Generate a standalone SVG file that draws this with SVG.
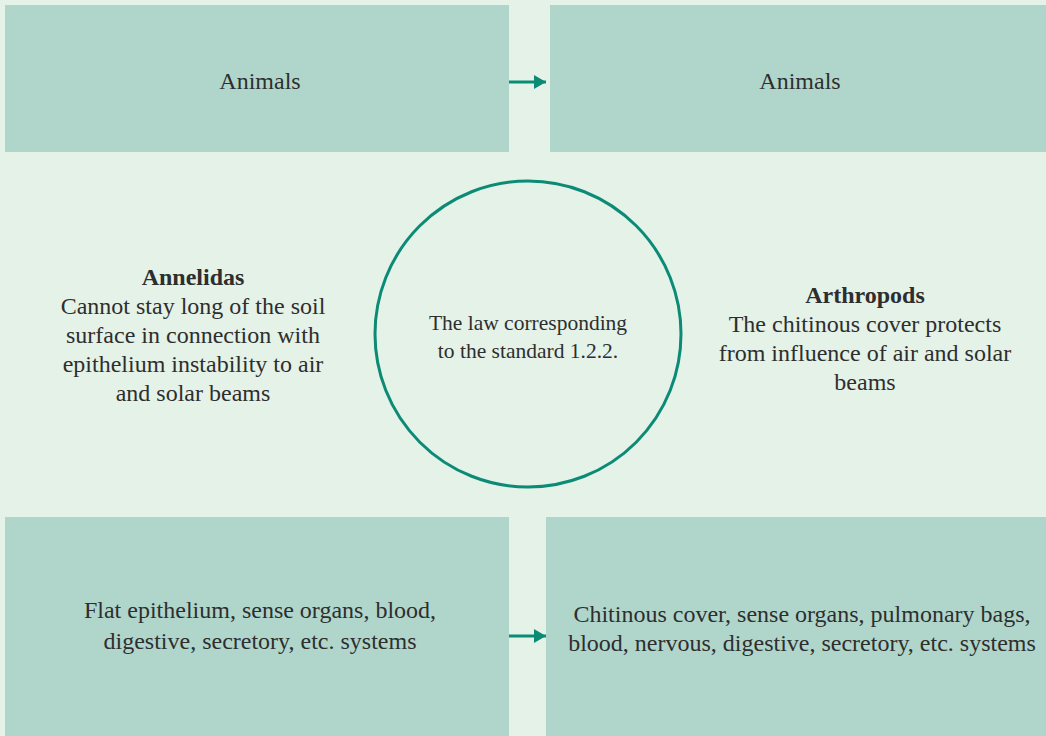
<svg xmlns="http://www.w3.org/2000/svg" width="1046" height="736" viewBox="0 0 1046 736">
<defs>
<style>
.box{fill:#b0d6cc}
text{font-family:"Liberation Serif","DejaVu Serif",serif;fill:#2e2e2e;text-anchor:middle}
.t{font-size:24px}
.s{font-size:21.5px}
.b{font-weight:bold}
.con{stroke:#0b8b76;stroke-width:3;fill:none}
</style>
<marker id="ah" viewBox="0 0 12 14" refX="12" refY="7" markerWidth="12" markerHeight="14" markerUnits="userSpaceOnUse" orient="auto">
<path d="M0,0 L12,7 L0,14 Z" fill="#0b8b76"/>
</marker>
</defs>
<rect width="1046" height="736" fill="#e4f2e8"/>
<g id="node-tl"><rect class="box" x="5" y="5" width="504" height="147"/><text class="t" x="260" y="89">Animals</text></g>
<g id="node-tr"><rect class="box" x="550" y="5" width="496" height="147"/><text class="t" x="800" y="89">Animals</text></g>
<g id="node-annelidas"><text class="t" x="193" y="285"><tspan class="b">Annelidas</tspan><tspan x="193" dy="29">Cannot stay long of the soil</tspan><tspan x="193" dy="29">surface in connection with</tspan><tspan x="193" dy="29">epithelium instability to air</tspan><tspan x="193" dy="29">and solar beams</tspan></text></g>
<g id="node-law"><circle cx="528" cy="334" r="153" fill="none" stroke="#0b8b76" stroke-width="3"/><text class="s" x="528" y="330">The law corresponding<tspan x="528" dy="28">to the standard 1.2.2.</tspan></text></g>
<g id="node-arthropods"><text class="t" x="865" y="303"><tspan class="b">Arthropods</tspan><tspan x="865" dy="29">The chitinous cover protects</tspan><tspan x="865" dy="29">from influence of air and solar</tspan><tspan x="865" dy="29">beams</tspan></text></g>
<g id="node-bl"><rect class="box" x="5" y="517" width="504" height="219"/><text class="t" x="260" y="618">Flat epithelium, sense organs, blood,<tspan x="260" dy="31">digestive, secretory, etc. systems</tspan></text></g>
<g id="node-br"><rect class="box" x="546" y="517" width="500" height="219"/><text class="t" x="802" y="622">Chitinous cover, sense organs, pulmonary bags,<tspan x="802" dy="29">blood, nervous, digestive, secretory, etc. systems</tspan></text></g>
<g id="connectors">
<line class="con" x1="509" y1="82" x2="546" y2="82" marker-end="url(#ah)"/>
<line class="con" x1="509" y1="636" x2="546" y2="636" marker-end="url(#ah)"/>
</g>
</svg>
